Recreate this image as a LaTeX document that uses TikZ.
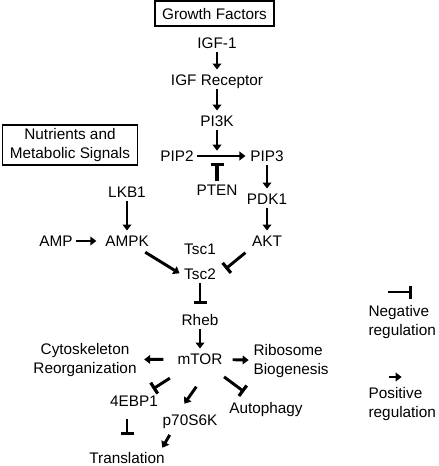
\documentclass[tikz,border=0pt]{standalone}
\usepackage{fontspec}
\setmainfont{Liberation Sans}
\usetikzlibrary{arrows.meta}

\begin{document}
\begin{tikzpicture}
  [x=0.75pt,y=-0.75pt,
   every node/.style={font=\fontsize{11.5}{14.25}\selectfont,inner sep=2.5pt},
   lbl/.style={text height=8.3pt,text depth=0pt},
   box/.style={draw,line width=1.3pt,inner xsep=5.5pt},
   act/.style={line width=2.2pt,-{Triangle[length=4.5pt,width=6.5pt]},shorten >=1pt},
   inh/.style={line width=2.2pt,-{Bar[width=9.75pt,line width=2.4pt]}}]
  \useasboundingbox (0,0) rectangle (438,466);

  \node (gf) at (214.5,13.5) [box,lbl,inner ysep=5pt] {Growth Factors};
  \node (igf) at (217,43) [lbl] {IGF-1};
  \node (igfr) at (217,80) [lbl] {IGF Receptor};
  \node (pi3k) at (217,121) [lbl] {PI3K};
  \node (nut) at (70,145) [box,align=center,inner ysep=2.5pt] {Nutrients and\\Metabolic Signals};
  \node (pip2) at (177,156) [lbl] {PIP2};
  \node (pip3) at (267,156) [lbl] {PIP3};
  \coordinate (conv) at (217,156);
  \node (pten) at (217,190) [lbl] {PTEN};
  \node (pdk1) at (267,199) [lbl] {PDK1};
  \node (akt) at (267,241) [lbl] {AKT};
  \node (lkb1) at (127,192) [lbl] {LKB1};
  \node (ampk) at (127,241) [lbl] {AMPK};
  \node (amp) at (56,241) [lbl] {AMP};
  \node (tsc1) at (200,249) [lbl] {Tsc1};
  \node (tsc2) at (200,274) [lbl] {Tsc2};
  \node (rheb) at (200,320) [lbl] {Rheb};
  \node (mtor) at (200,359) [lbl] {mTOR};
  \node (cyto) at (85,360) [align=center] {Cytoskeleton\\Reorganization};
  \node (ribo) at (250,361) [anchor=west,align=left] {Ribosome\\Biogenesis};
  \node (ebp) at (134,401) [lbl] {4EBP1};
  \node (p70) at (190,420) [lbl] {p70S6K};
  \node (autoph) at (266,408) [lbl] {Autophagy};
  \node (trans) at (127,458) [lbl] {Translation};
  \node (neg) at (365,322) [anchor=west,align=left] {Negative\\regulation};
  \node (pos) at (365,404) [anchor=west,align=left] {Positive\\regulation};
  \coordinate (negA) at (388,292);
  \coordinate (negB) at (412,292);
  \coordinate (posA) at (389,377);
  \coordinate (posB) at (403,377);

  \foreach \from/\to in {igf/igfr,igfr/pi3k,pip2/pip3,pip3/pdk1,pdk1/akt,lkb1/ampk,rheb/mtor}
    \draw[act] (\from) -- (\to);
  \draw[act,shorten >=4pt] (pi3k) -- (conv);
  \draw[inh,line width=2.8pt,shorten >=5pt] (pten) -- (conv);
  \draw[act,shorten >=4pt] (amp) -- (ampk);
  \draw[act,shorten <=3pt] (ampk) -- (tsc2.west);
  \draw[inh,shorten <=3pt,shorten >=6pt] (akt.south west) -- (tsc2.east);
  \draw[inh,shorten >=5pt] (tsc2) -- (rheb);
  \draw[act,shorten <=8pt,shorten >=3pt] (mtor) -- (cyto);
  \draw[act,shorten <=5pt] (mtor) -- (ribo);
  \draw[inh,shorten <=14pt,shorten >=4pt] (mtor) -- (ebp);
  \draw[act,shorten <=17pt,shorten >=6.5pt] ([xshift=7pt]mtor.south) -- ([xshift=-8pt]p70.north);
  \draw[inh,shorten <=11pt,shorten >=9pt] (mtor) -- (autoph);
  \draw[inh,shorten <=7pt,shorten >=10.5pt] (ebp.south -| trans) -- (trans);
  \draw[act,shorten <=5pt] ([xshift=-12.75pt]p70.south) -- ([xshift=26pt]trans.north);
  \draw[inh] (negA) -- (negB);
  \draw[act] (posA) -- (posB);
\end{tikzpicture}
\end{document}
